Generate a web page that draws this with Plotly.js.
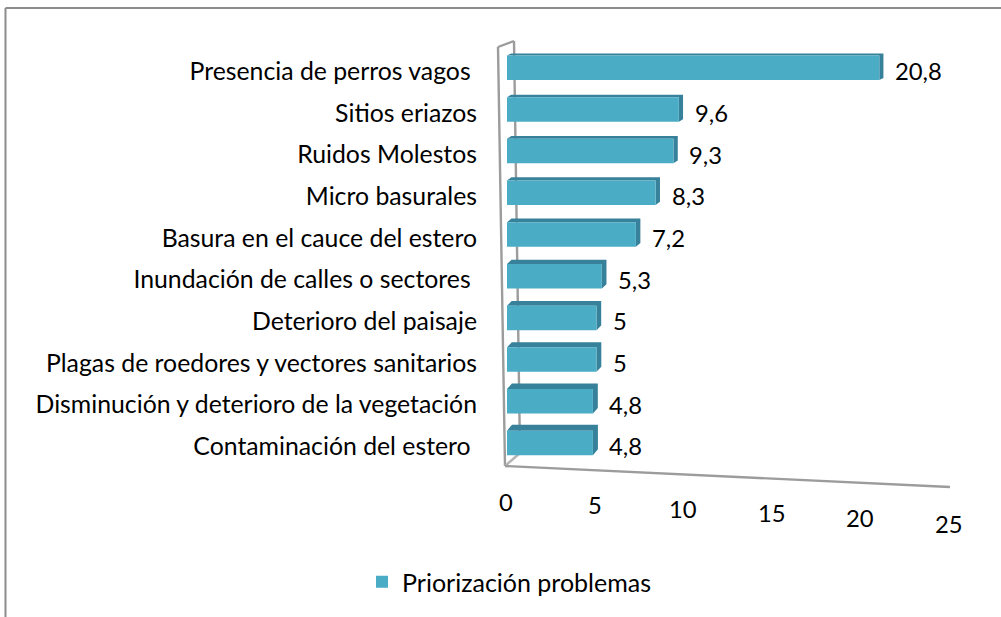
<!DOCTYPE html>
<html><head><meta charset="utf-8">
<script src="https://cdn.plot.ly/plotly-3.0.1.min.js"></script>
<style>html,body{margin:0;padding:0;background:#fff}</style></head>
<body><div id="chart" style="width:1001px;height:617px"></div>
<script>
const categories = ["Presencia de perros vagos\u00a0","Sitios eriazos","Ruidos Molestos","Micro basurales","Basura en el cauce del estero","Inundación de calles o sectores\u00a0","Deterioro del paisaje","Plagas de roedores y vectores sanitarios","Disminución y deterioro de la vegetación","Contaminación del estero\u00a0"];
const values = [20.8,9.6,9.3,8.3,7.2,5.3,5,5,4.8,4.8];
const xTicks = [0,5,10,15,20,25];
const seriesName = "Priorización problemas";

const W = 1001, H = 617;
const FONT = "Lato, Carlito, sans-serif", FS_CAT = 24.8, FS_NUM = 23.8, FS_LEG = 25;
const BLUE = "#4bacc6", DARK = "#37819a", GREY = "#9c9c9c";
const x0 = 507, pxPerUnit = 17.9;
const rowBottom = 443, labelDrop = 3.5, pitch = 41.7, barH = 24.5;
const barW = barH / pitch, barOffset = -barW / 2 - labelDrop / pitch;
const px = v => x0 + v * pxPerUnit;
const fx = p => p / W, fy = p => 1 - p / H;
const pathOf = pts => "M" + pts.map(p => fx(p[0]).toFixed(5) + "," + fy(p[1]).toFixed(5)).join("L") + "Z";
const line = (a, b, c, w) => ({type:"line", xref:"paper", yref:"paper", layer:"below", x0:fx(a[0]), y0:fy(a[1]), x1:fx(b[0]), y1:fy(b[1]), line:{color:c, width:w}});

const shapes = [
  line([5.5,8],[1001,8],"#8c8c8c",2), line([5.5,8],[5.5,617],"#8c8c8c",2),
  line([498,47],[505,466],GREY,2.4), line([498,47],[514,41],GREY,2.4),
  line([514,41],[520,453],GREY,2.4), line([505,466],[520,453],"#b4b4b4",2.4),
  line([505,466],[950,487],GREY,2.4)
];
values.forEach((v, idx) => {
  const i = values.length - 1 - idx;
  const Y = rowBottom - pitch * i, X = px(v), t = Y - barH / 2, b = Y + barH / 2;
  const dy = 6 - 0.45 * i, dx = 5 - 0.1 * i;
  shapes.push({type:"path", xref:"paper", yref:"paper", layer:"below", line:{width:0}, fillcolor:DARK,
    path:pathOf([[x0,t],[x0+dx,t-dy],[X+dx,t-dy],[X+dx,b-dy],[X,b],[X,t]])});
});

const annotations = values.map((v, idx) => ({
  x:v, y:categories[idx], xref:"x", yref:"y", xanchor:"left", yanchor:"middle", xshift:14, yshift:0, showarrow:false,
  text:String(v).replace(".", ","), font:{family:FONT, size:FS_NUM, color:"#000"}
})).concat(xTicks.map(t => ({
  x:t, y:fy(502 + 0.6 * t + 0.0105 * t * t), xref:"x", yref:"paper", xanchor:"center", yanchor:"middle", xshift:-1 - 0.2 * t, showarrow:false,
  text:String(t), font:{family:FONT, size:FS_NUM, color:"#000"}
})));

const rowC = rowBottom + labelDrop;
Plotly.newPlot("chart", [{
  type:"bar", orientation:"h", name:seriesName, x:values, y:categories,
  width:barW, offset:barOffset,
  marker:{color:BLUE, line:{width:0}}, hoverinfo:"x+y"
}], {
  width:W, height:H, margin:{l:0,r:0,t:0,b:0,pad:0}, paper_bgcolor:"#fff", plot_bgcolor:"rgba(0,0,0,0)",
  showlegend:true,
  xaxis:{domain:[fx(x0), fx(px(25))], range:[0,25], showgrid:false, zeroline:false, showticklabels:false, ticks:"", showline:false},
  yaxis:{domain:[fy(rowC+pitch/2), fy(rowC-pitch*9.5)], type:"category", range:[9.5,-0.5], showgrid:false, zeroline:false, showline:false, ticks:"",
    ticklabelstandoff:29, tickfont:{family:FONT, size:FS_CAT, color:"#000"}, automargin:false, tickmode:"array", tickvals:categories, ticktext:categories},
  legend:{x:fx(362), y:fy(559), xanchor:"left", yanchor:"top", bgcolor:"rgba(0,0,0,0)", font:{family:FONT, size:FS_LEG, color:"#000"}, itemwidth:30},
  shapes, annotations
}, {displayModeBar:false, staticPlot:true});
</script></body></html>
